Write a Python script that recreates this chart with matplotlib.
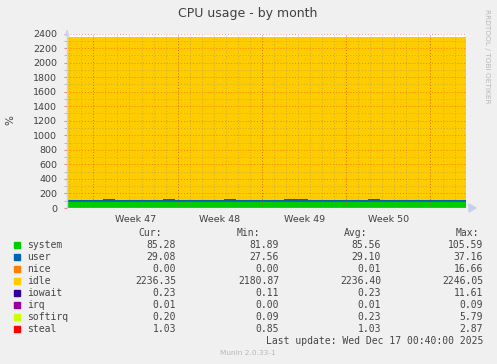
import matplotlib
matplotlib.use("Agg")
import matplotlib.pyplot as plt
import numpy as np

W, H = 497, 364
DPI = 100

# ---- data (days from start of window, values in %) ----
days = list(range(0, 34))
system = [85, 84, 86, 87, 85, 84, 83, 86, 88, 85, 84, 86, 85, 87, 86, 84,
          85, 86, 88, 87, 85, 84, 86, 85, 86, 87, 85, 84, 86, 85, 86, 85, 85, 85]
user = [29, 29, 28, 30, 29, 29, 28, 29, 30, 29, 29, 28, 29, 30, 29, 29,
        29, 28, 29, 30, 29, 29, 29, 28, 29, 30, 29, 29, 29, 29, 29, 29, 29, 29]
nice = [0, 0, 0, 0, 0, 0, 0, 0, 0, 0, 0, 0, 0, 0, 0, 0,
        0, 0, 0, 0, 0, 0, 0, 0, 0, 0, 0, 0, 0, 0, 0, 0, 0, 0]
idle = [2237, 2238, 2237, 2235, 2237, 2238, 2239, 2236, 2234, 2237, 2238, 2237, 2237, 2234, 2236, 2238,
        2237, 2237, 2234, 2234, 2237, 2238, 2236, 2238, 2236, 2234, 2237, 2238, 2236, 2237, 2236, 2237, 2236, 2236]
iowait = [0.23] * 34
irq = [0.01] * 34
softirq = [0.2] * 34
steal = [1.03] * 34

series_names = ["system", "user", "nice", "idle", "iowait", "irq", "softirq", "steal"]
series_colors = ["#00CC00", "#0066B3", "#FF8000", "#FFCC00", "#330099", "#990099", "#CCFF00", "#FF0000"]
cur = ["85.28", "29.08", "0.00", "2236.35", "0.23", "0.01", "0.20", "1.03"]
mins = ["81.89", "27.56", "0.00", "2180.87", "0.11", "0.00", "0.09", "0.85"]
avgs = ["85.56", "29.10", "0.01", "2236.40", "0.23", "0.01", "0.23", "1.03"]
maxs = ["105.59", "37.16", "16.66", "2246.05", "11.61", "0.09", "5.79", "2.87"]
week_labels = ["Week 47", "Week 48", "Week 49", "Week 50"]
first_week_start = 2.19
x_end = 33.14

fig = plt.figure(figsize=(W / DPI, H / DPI), dpi=DPI, facecolor="#F0F0F0")

def fx(px):
    return px / W

def fy(py):
    return 1 - py / H

L, R, T, B = 67, 466, 33.5, 208
ax = fig.add_axes([fx(L), fy(B), fx(R) - fx(L), fy(T) - fy(B)])
ax.set_facecolor("white")

data = [system, user, nice, idle, iowait, irq, softirq, steal]
x = np.array(days, dtype=float)
x[-1] = x_end
base = np.zeros(len(x))
for vals, col in zip(data, series_colors):
    top = base + np.array(vals, dtype=float)
    ax.fill_between(x, base, top, color=col, linewidth=0, zorder=2, step="post")
    base = top

ax.set_xlim(0, x_end)
ax.set_ylim(0, 2400)

# grid
for d in np.arange(0, x_end, 1.0) + (first_week_start % 1):
    ax.axvline(d, color="#808080", lw=0.7, ls=(0, (1, 2)), zorder=3, alpha=0.4)
for v in range(100, 2400, 200):
    ax.axhline(v, color="#808080", lw=0.7, ls=(0, (1, 2)), zorder=3, alpha=0.4)
wk = [first_week_start + 7 * k for k in range(5)]
for d in wk:
    ax.axvline(d, color="#FF2000", lw=0.7, ls=(0, (1, 2)), zorder=3, alpha=0.45)
for v in range(200, 2401, 200):
    ax.axhline(v, color="#FF2000", lw=0.7, ls=(0, (1, 2)), zorder=3, alpha=0.45, clip_on=False)

for s in ax.spines.values():
    s.set_visible(False)
ax.axvline(0, color="#C8D0F0", lw=1.0, zorder=4, clip_on=False)
ax.axhline(0, color="#A0D8A0", lw=1.0, zorder=4)

ax.set_yticks(range(0, 2401, 200))
ax.set_yticklabels([str(v) for v in range(0, 2401, 200)], fontsize=6.8, color="#404040")
ax.set_yticks(range(100, 2400, 200), minor=True)
ax.set_xticks([w + 3.5 for w in wk[:4]])
ax.set_xticklabels(week_labels, fontsize=6.8, color="#404040")
ax.tick_params(axis="x", length=0, pad=5)
ax.tick_params(axis="y", which="major", length=2, color="#F08080", pad=5)
ax.tick_params(axis="y", which="minor", length=2, color="#B0B0B0")

# arrows
ax.annotate("", xy=(0, 2480), xytext=(0, 2400), xycoords="data",
            arrowprops=dict(arrowstyle="-|>", color="#C8D0F0", lw=0.8, mutation_scale=7),
            annotation_clip=False)
fig.patches.append(plt.Polygon([[fx(469), fy(204)], [fx(469), fy(212)], [fx(476), fy(208)]],
                               closed=True, transform=fig.transFigure, color="#C8D0F0"))

fig.text(fx(248), fy(14), "CPU usage - by month", ha="center", va="center", fontsize=9, color="#404040")
fig.text(fx(10), fy(120), "%", ha="center", va="center", rotation=90, fontsize=7.5, color="#404040")
fig.text(fx(487), fy(56), "RRDTOOL / TOBI OETIKER", ha="center", va="center", rotation=-90,
         fontsize=5.3, color="#B8B8B8")

mono = "DejaVu Sans Mono"
fs = 7
tc = "#454545"
row0 = 245
dy = 12
fig.text(fx(162), fy(233), "Cur:", ha="right", va="center", family=mono, fontsize=fs, color=tc)
fig.text(fx(260), fy(233), "Min:", ha="right", va="center", family=mono, fontsize=fs, color=tc)
fig.text(fx(367), fy(233), "Avg:", ha="right", va="center", family=mono, fontsize=fs, color=tc)
fig.text(fx(479), fy(233), "Max:", ha="right", va="center", family=mono, fontsize=fs, color=tc)
for i, (n, c) in enumerate(zip(series_names, series_colors)):
    y = row0 + i * dy
    fig.patches.append(plt.Rectangle((fx(14), fy(y + 3)), fx(6), 6 / H, transform=fig.transFigure,
                                     color=c))
    fig.text(fx(27), fy(y), n, ha="left", va="center", family=mono, fontsize=fs, color=tc)
    fig.text(fx(176), fy(y), cur[i], ha="right", va="center", family=mono, fontsize=fs, color=tc)
    fig.text(fx(279), fy(y), mins[i], ha="right", va="center", family=mono, fontsize=fs, color=tc)
    fig.text(fx(381), fy(y), avgs[i], ha="right", va="center", family=mono, fontsize=fs, color=tc)
    fig.text(fx(483), fy(y), maxs[i], ha="right", va="center", family=mono, fontsize=fs, color=tc)

fig.text(fx(483), fy(341), "Last update: Wed Dec 17 00:40:00 2025", ha="right", va="center",
         family=mono, fontsize=fs, color=tc)
fig.text(fx(248), fy(353), "Munin 2.0.33-1", ha="center", va="center", fontsize=5.3, color="#B8B8B8")

fig.savefig("out.png", dpi=DPI, facecolor=fig.get_facecolor())
